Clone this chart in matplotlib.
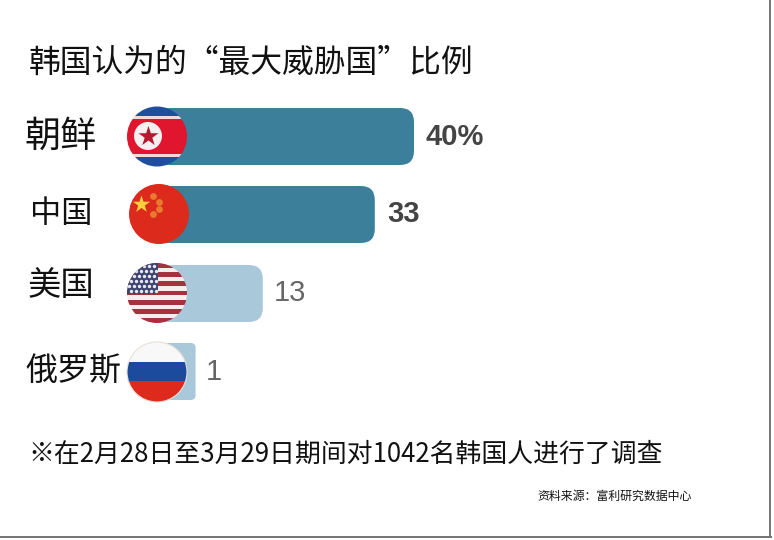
import matplotlib
matplotlib.use('Agg')
from matplotlib import pyplot as plt
from matplotlib.patches import Circle, FancyBboxPatch, Rectangle

plt.rcParams['font.family'] = ['Noto Sans CJK SC', 'DejaVu Sans']

countries = ['朝鲜', '中国', '美国', '俄罗斯']
shares = [40, 33, 13, 1]
value_labels = ['40%', '33', '13', '1']
title = '韩国认为的“最大威胁国”比例'
note = '※在2月28日至3月29日期间对1042名韩国人进行了调查'
source = '资料来源：富利研究数据中心'

W, H = 774, 540
PX_PER_UNIT = 5.6
ZERO_PX = 190

fig = plt.figure(figsize=(W / 100, H / 100), dpi=100, facecolor='white')

# value axis for the bars: x in percent, y in pixels
ax = fig.add_axes([0, 0, 1, 1])
ax.set_xlim(-ZERO_PX / PX_PER_UNIT, (W - ZERO_PX) / PX_PER_UNIT)
ax.set_ylim(H, 0)
ax.axis('off')

# same area in plain pixels for flags and text
px = fig.add_axes([0, 0, 1, 1])
px.set_xlim(0, W)
px.set_ylim(H, 0)
px.axis('off')
px.patch.set_alpha(0)

bar_tops = [108, 186, 265, 343]
bar_h = 57
bar_colors = ['#3b7f9b', '#3b7f9b', '#a9c9db', '#a9c9db']
bar_radius = [14, 14, 14, 5]
for i, v in enumerate(shares):
    left = -6
    r = bar_radius[i] / PX_PER_UNIT
    ax.add_patch(FancyBboxPatch((left + r, bar_tops[i] + bar_radius[i]), v - left - 2 * r,
                                bar_h - 2 * bar_radius[i],
                                boxstyle='round,pad=%f,rounding_size=%f' % (r, r),
                                mutation_aspect=PX_PER_UNIT,
                                fc=bar_colors[i], ec='none'))


def flag_circle(cx, cy, r=30):
    c = Circle((cx, cy), r, fc='none', ec='none', transform=px.transData)
    px.add_patch(c)
    return c


def stripes(cx, cy, bands, clip):
    # bands: (top, bottom, colour) in pixels
    for top, bottom, col in bands:
        s = Rectangle((cx - 32, top), 64, bottom - top, fc=col, ec='none')
        px.add_patch(s)
        s.set_clip_path(clip)


# North Korea
clip = flag_circle(157, 136.5)
stripes(157, 136.5, [(106, 116, '#1f4e9e'), (116, 119, '#f0d8de'), (119, 154, '#e0162f'),
                     (154, 157, '#f0d8de'), (157, 168, '#1f4e9e')], clip)
px.add_patch(Circle((148, 136), 14, fc='#f7eef0', ec='none'))
px.scatter([148], [136], s=230, marker='*', c='#b5182f', linewidths=0, zorder=3)

# China
clip = flag_circle(159, 214)
px.add_patch(Circle((159, 214), 30, fc='#dc2a1c', ec='none'))
px.scatter([141], [204], s=170, marker='*', c='#f7d23c', linewidths=0, zorder=3)
px.scatter([153, 159, 159, 153], [196, 202, 209, 214], s=24, marker='o', c='#ea7a30',
           linewidths=0, zorder=3)

# USA
clip = flag_circle(157, 293)
top_y = 263
band = 60 / 13
stripes(157, 293, [(top_y + k * band, top_y + (k + 1) * band + 0.2,
                    '#a5333f' if k % 2 == 0 else '#f5eeee') for k in range(13)], clip)
canton = Rectangle((125, 262), 33, 32, fc='#3e4470', ec='none')
px.add_patch(canton)
canton.set_clip_path(clip)
star_x, star_y = [], []
for row in range(6):
    for col in range(6):
        star_x.append(129 + col * 4.9 + (row % 2) * 2.4)
        star_y.append(266 + row * 5)
dots = px.scatter(star_x, star_y, s=6, c='#e8e8f0', linewidths=0, zorder=3)
dots.set_clip_path(clip)

# Russia
clip = flag_circle(157, 372)
stripes(157, 372, [(340, 362, '#f8f8f8'), (362, 381, '#1c4a9c'), (381, 404, '#dd2a1c')], clip)
px.add_patch(Circle((157, 372), 30, fc='none', ec='#e8e0d8', lw=0.8))

# left labels
label_x = [25, 30, 28, 25]
label_y = [137, 214, 286, 372]
label_size = [26, 22.5, 24, 23]
for i, name in enumerate(countries):
    px.text(label_x[i], label_y[i], name, fontsize=label_size[i], va='center', ha='left', color='#111111')

# value labels
val_x = [425, 387, 274, 206]
val_y = [137, 214, 293, 372]
val_size = [21, 21, 21, 21]
val_weight = ['bold', 'bold', 'normal', 'normal']
val_color = ['#444444', '#444444', '#666666', '#666666']
for i, t in enumerate(value_labels):
    px.text(val_x[i], val_y[i], t, fontsize=val_size[i], fontweight=val_weight[i], color=val_color[i],
            family=['Liberation Sans', 'DejaVu Sans'], va='center', ha='left')

px.text(29, 63, title, fontsize=22.9, va='center', ha='left', color='#111111')
px.text(28, 454, note, fontsize=18.6, va='center', ha='left', color='#111111')
px.text(537, 496, source, fontsize=8.6, va='center', ha='left', color='#111111', fontweight='medium')

# grey frame on the right and bottom
px.plot([770, 770], [0, 537], color='#777777', lw=1.44)
px.plot([0, 771], [537, 537], color='#777777', lw=1.44)

fig.savefig('out.png', dpi=100)
